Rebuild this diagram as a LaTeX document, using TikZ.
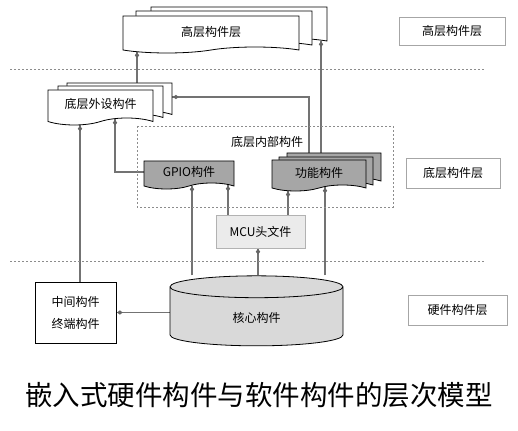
\documentclass[tikz,border=0pt]{standalone}
\usepackage{fontspec}
\setmainfont{Noto Sans CJK SC}
\usetikzlibrary{shapes.geometric,shapes.symbols,backgrounds,decorations.markings}

\tikzset{
  doc/.style={tape,tape bend top=none,tape bend bottom=in and out,tape bend height=6pt,
    draw,thick,fill=white,inner sep=0pt,font=\fontsize{12}{14}\selectfont},
  gdoc/.style={doc,fill=black!35},
  layerbox/.style={rectangle,draw=black!35,fill=white,font=\fontsize{12}{14}\selectfont},
  conn/.style={draw=black!55,line width=1.2pt,postaction={decorate},
    decoration={markings,mark=at position -3.5pt with {\fill[black!60] (-2.8pt,0) -- (0,2.2pt) -- (2.8pt,0) -- (0,-2.2pt) -- cycle;}}},
  sepline/.style={draw=black!45,dash pattern=on 2pt off 2pt,line width=0.8pt}
}

\begin{document}
\begin{tikzpicture}[x=1pt,y=-1pt]
    \useasboundingbox (0,0) rectangle (518,430);

    % high layer
    \node[doc,minimum width=176pt,minimum height=37pt] (high3) at (239,22.5) {};
    \node[doc,minimum width=176pt,minimum height=37pt] (high2) at (224,26.5) {};
    \node[doc,minimum width=176pt,minimum height=37pt] (high) at (211,31.5) {高层构件层};

    % peripheral layer
    \node[doc,tape bend height=7pt,minimum width=105pt,minimum height=35pt] (periph3) at (119.5,97) {};
    \node[doc,tape bend height=7pt,minimum width=105pt,minimum height=35pt] (periph2) at (110.5,100) {};
    \node[doc,tape bend height=7pt,minimum width=105pt,minimum height=35pt] (periph) at (100.5,104) {底层外设构件};

    % inner frame
    \draw[sepline] (137,126) rectangle (393,207);
    \node[font=\fontsize{12}{14}\selectfont] (inner) at (267,142) {底层内部构件};

    \node[gdoc,minimum width=90pt,minimum height=28pt] (gpio) at (189,172) {GPIO构件};
    \node[gdoc,minimum width=94pt,minimum height=31pt] (func3) at (334,165.5) {};
    \node[gdoc,minimum width=94pt,minimum height=31pt] (func2) at (326,169.5) {};
    \node[gdoc,minimum width=94pt,minimum height=31pt] (func) at (319,172.5) {功能构件};

    \node[rectangle,draw=black!30,fill=black!8,minimum width=89pt,minimum height=33pt,
      font=\fontsize{12}{14}\selectfont] (mcu) at (260.5,231.5) {MCU头文件};

    % hardware layer
    \node[cylinder,shape border rotate=90,aspect=0.4,draw,thick,fill=black!15,
      minimum width=173pt,minimum height=70pt,font=\fontsize{12}{14}\selectfont] (core) at (256.5,318) {核心构件};
    \node[rectangle,draw,thick,fill=white,minimum width=81pt,minimum height=61pt,align=center,
      font=\fontsize{12}{22}\selectfont] (mid) at (75.5,312.5) {中间构件\\终端构件};

    % layer labels
    \node[layerbox,minimum width=106pt,minimum height=28pt] (lhigh) at (452,31) {高层构件层};
    \node[layerbox,minimum width=94pt,minimum height=30pt] (llow) at (453,173) {底层构件层};
    \node[layerbox,minimum width=99pt,minimum height=30pt] (lhw) at (457.5,310) {硬件构件层};

    \coordinate (sepAl) at (10,69);
    \coordinate (sepAr) at (485,69);
    \coordinate (sepBl) at (10,261);
    \coordinate (sepBr) at (485,261);
    \draw[sepline] (sepAl) -- (sepAr);
    \draw[sepline] (sepBl) -- (sepBr);

    \begin{scope}[on background layer]
    \draw[conn] ([xshift=17.5pt]periph3.north) -- ([xshift=17.5pt,yshift=-4.4pt]periph3.north |- high.south);
    \draw[conn] ([xshift=-13pt]func3.north) -- ([xshift=-13pt,yshift=-2.4pt]func3.north |- high3.south);
    \draw[conn] ([xshift=-25pt]func3.north) |- (periph3.east);
    \draw[conn] ([xshift=4.5pt]mid.north) -- ([xshift=4.5pt,yshift=-6.8pt]mid.north |- periph.south);
    \draw[conn] (gpio.west) -| ([xshift=14.5pt,yshift=-0.8pt]periph.south);
    \draw[conn] ([xshift=3pt]gpio.south |- core.north) -- ([xshift=3pt,yshift=-2.4pt]gpio.south);
    \draw[conn] ([xshift=39pt]gpio.south |- mcu.north) -- ([xshift=39pt,yshift=-1.8pt]gpio.south);
    \draw[conn] ([xshift=-31pt]func.south |- mcu.north) -- ([xshift=-31pt,yshift=-5.6pt]func.south);
    \draw[conn] ([xshift=6pt]func.south |- core.north) -- ([xshift=6pt,yshift=-1.8pt]func.south);
    \draw[conn] ([xshift=1.5pt]core.north) -- ([xshift=1.5pt]core.north |- mcu.south);
    \draw[conn] (mid.east -| core.west) -- (mid.east);
    \end{scope}

    \node[font=\fontsize{27.5}{32}\selectfont] (title) at (259,395) {嵌入式硬件构件与软件构件的层次模型};
\end{tikzpicture}
\end{document}
